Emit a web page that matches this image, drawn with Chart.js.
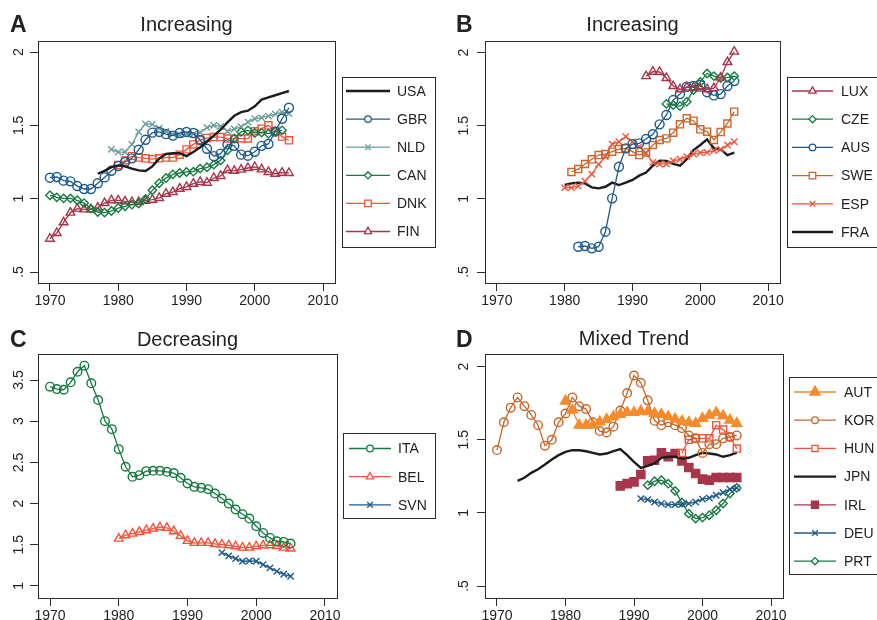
<!DOCTYPE html>
<html><head><meta charset="utf-8">
<script src="https://cdn.jsdelivr.net/npm/chart.js@4.4.1/dist/chart.umd.min.js"></script>
<style>
html,body{margin:0;padding:0;background:#fff;}
#wrap{position:relative;width:877px;height:620px;overflow:hidden;background:#fff;}
canvas{position:absolute;}
</style></head><body>
<div id="wrap">
<canvas id="cA" width="440" height="312" style="left:0;top:0"></canvas>
<canvas id="cB" width="437" height="312" style="left:440px;top:0"></canvas>
<canvas id="cC" width="440" height="308" style="left:0;top:312px"></canvas>
<canvas id="cD" width="437" height="308" style="left:440px;top:312px"></canvas>
</div>
<script>
const FONT = '"Liberation Sans", Arial, Helvetica, sans-serif';

// ---- tick labels ----
const xTicks = [1970, 1980, 1990, 2000, 2010];
const yTicksAB = [0.5, 1, 1.5, 2];
const yLabelsAB = ['.5', '1', '1.5', '2'];
const yTicksC = [1, 1.5, 2, 2.5, 3, 3.5];
const yLabelsC = ['1', '1.5', '2', '2.5', '3', '3.5'];

// ---- panel titles ----
const titles = ['Increasing', 'Increasing', 'Decreasing', 'Mixed Trend'];
const letters = ['A', 'B', 'C', 'D'];

// ---- Panel A data (first year, yearly values) ----
const usaStart = 1977;
const usa = [1.17,1.19,1.215,1.227,1.22,1.205,1.193,1.189,1.22,1.273,1.305,1.31,1.31,1.29,1.318,1.35,1.39,1.43,1.47,1.52,1.565,1.59,1.60,1.63,1.675,1.69,1.705,1.72,1.734];
const gbrStart = 1970;
const gbr = [1.143,1.148,1.123,1.118,1.086,1.066,1.066,1.105,1.145,1.19,1.223,1.25,1.275,1.334,1.402,1.45,1.455,1.44,1.43,1.448,1.455,1.448,1.40,1.34,1.29,1.307,1.37,1.36,1.30,1.293,1.32,1.36,1.373,1.457,1.545,1.62];
const nldStart = 1979;
const nld = [1.336,1.318,1.318,1.37,1.455,1.51,1.507,1.48,1.46,1.44,1.436,1.44,1.44,1.452,1.484,1.50,1.493,1.46,1.475,1.49,1.523,1.545,1.552,1.563,1.577,1.59,1.58];
const canStart = 1970;
const can = [1.023,1.009,1.002,1.002,0.989,0.97,0.932,0.909,0.905,0.916,0.936,0.948,0.959,0.966,0.998,1.057,1.105,1.141,1.166,1.175,1.182,1.184,1.205,1.214,1.232,1.261,1.33,1.41,1.455,1.466,1.448,1.45,1.443,1.459,1.466];
const dnkStart = 1980;
const dnk = [1.23,1.26,1.29,1.28,1.275,1.27,1.275,1.28,1.28,1.30,1.336,1.37,1.40,1.414,1.42,1.42,1.41,1.407,1.41,1.41,1.459,1.477,1.50,1.461,1.423,1.398];
const finStart = 1970;
const fin = [0.727,0.766,0.839,0.905,0.932,0.927,0.927,0.939,0.97,0.989,0.989,0.982,0.977,0.977,0.986,0.993,1.005,1.034,1.045,1.068,1.08,1.102,1.114,1.109,1.141,1.155,1.195,1.19,1.198,1.209,1.216,1.20,1.182,1.17,1.177,1.175];

// ---- Panel B data ----
const luxStart = 1992;
const lux = [1.84,1.87,1.868,1.827,1.772,1.75,1.763,1.763,1.754,1.75,1.758,1.83,1.936,2.007];
const czeStart = 1995;
const cze = [1.65,1.642,1.635,1.665,1.745,1.80,1.858,1.84,1.827,1.83,1.84];
const ausStart = 1982;
const aus = [0.673,0.678,0.662,0.673,0.776,1.004,1.22,1.346,1.375,1.38,1.41,1.442,1.51,1.574,1.676,1.717,1.767,1.772,1.779,1.73,1.708,1.717,1.772,1.806];
const sweStart = 1981;
const swe = [1.184,1.204,1.239,1.271,1.30,1.307,1.323,1.341,1.346,1.323,1.30,1.318,1.369,1.403,1.414,1.453,1.51,1.551,1.535,1.476,1.46,1.403,1.457,1.516,1.597];
const espStart = 1980;
const esp = [1.077,1.077,1.088,1.122,1.17,1.236,1.289,1.375,1.391,1.426,1.391,1.357,1.312,1.25,1.239,1.239,1.261,1.271,1.289,1.307,1.316,1.318,1.33,1.339,1.369,1.391];
const fraStart = 1980;
const fra = [1.095,1.106,1.111,1.106,1.079,1.072,1.083,1.111,1.095,1.111,1.13,1.159,1.18,1.227,1.261,1.259,1.239,1.227,1.271,1.334,1.369,1.407,1.346,1.339,1.30,1.316];

// ---- Panel C data ----
const itaStart = 1970;
const ita = [3.419,3.39,3.382,3.472,3.60,3.674,3.46,3.257,3.0,2.904,2.661,2.447,2.325,2.345,2.394,2.398,2.398,2.386,2.37,2.313,2.244,2.203,2.191,2.175,2.122,2.062,2.0,1.928,1.871,1.818,1.725,1.644,1.583,1.543,1.535,1.515];
const belStart = 1980;
const bel = [1.575,1.616,1.636,1.656,1.677,1.697,1.713,1.705,1.665,1.608,1.547,1.523,1.523,1.523,1.51,1.502,1.494,1.482,1.466,1.466,1.482,1.494,1.494,1.486,1.466,1.454];
const svnStart = 1995;
const svn = [1.405,1.365,1.332,1.30,1.304,1.30,1.26,1.219,1.178,1.142,1.118];

// ---- Panel D data ----
const autStart = 1980;
const aut = [1.765,1.703,1.60,1.60,1.60,1.623,1.64,1.658,1.673,1.687,1.687,1.696,1.692,1.68,1.673,1.658,1.642,1.628,1.619,1.612,1.646,1.669,1.685,1.664,1.635,1.612];
const korStart = 1970;
const kor = [1.43,1.62,1.72,1.79,1.73,1.67,1.60,1.46,1.50,1.62,1.68,1.79,1.73,1.71,1.62,1.56,1.55,1.59,1.70,1.82,1.94,1.89,1.77,1.63,1.60,1.62,1.60,1.58,1.53,1.51,1.41,1.47,1.47,1.51,1.52,1.53];
const hunStart = 1997;
const hun = [1.41,1.50,1.51,1.51,1.51,1.60,1.57,1.52,1.44];
const jpnStart = 1973;
const jpn = [1.219,1.24,1.274,1.299,1.331,1.365,1.395,1.418,1.429,1.429,1.422,1.411,1.40,1.406,1.422,1.436,1.395,1.349,1.308,1.322,1.338,1.377,1.384,1.384,1.372,1.377,1.395,1.411,1.406,1.40,1.384,1.395,1.413];
const irlStart = 1988;
const irl = [1.185,1.20,1.212,1.263,1.356,1.36,1.411,1.384,1.406,1.356,1.311,1.27,1.231,1.224,1.242,1.242,1.242,1.242];
const deuStart = 1991;
const deu = [1.098,1.091,1.075,1.064,1.057,1.057,1.059,1.064,1.075,1.094,1.103,1.121,1.139,1.162,1.171];
const prtStart = 1992;
const prt = [1.19,1.217,1.224,1.20,1.151,1.071,0.995,0.961,0.968,0.984,1.018,1.064,1.132,1.171];

// ---- styles ----
const COL = {black:'#1c1c1c', blue:'#1e5a8c', teal:'#6b9e96', green:'#167a41', red:'#f0553c', maroon:'#a8364a', brown:'#c8662c', orange:'#f58b2b'};

function pts(start, vals) { return vals.map((v, i) => ({x: start + i, y: v})); }

function series(label, start, vals, color, style, r, filled, legR) {
  const line = !style;
  return {
    label, data: pts(start, vals),
    borderColor: color, backgroundColor: color,
    borderWidth: line ? 2.4 : 1.3,
    pointStyle: style || 'circle',
    pointRadius: line ? 0 : r,
    pointHoverRadius: line ? 0 : r,
    pointBorderWidth: 1.4,
    pointBorderColor: color,
    pointBackgroundColor: filled ? color : 'rgba(255,255,255,0)',
    tension: 0, fill: false,
    _style: style, _filled: filled, _legR: legR
  };
}

function drawMarker(ctx, style, x, y, r, color, filled, lw) {
  ctx.save();
  ctx.strokeStyle = color; ctx.fillStyle = color; ctx.lineWidth = lw;
  ctx.beginPath();
  if (style === 'circle') {
    ctx.arc(x, y, r, 0, Math.PI * 2);
  } else if (style === 'rect') {
    const s = r * Math.SQRT1_2; ctx.rect(x - s, y - s, 2 * s, 2 * s);
  } else if (style === 'triangle') {
    ctx.moveTo(x, y - r);
    ctx.lineTo(x + r * Math.sin(Math.PI / 3), y + r * 0.5);
    ctx.lineTo(x - r * Math.sin(Math.PI / 3), y + r * 0.5);
    ctx.closePath();
  } else if (style === 'rectRot') {
    ctx.moveTo(x, y - r); ctx.lineTo(x + r, y); ctx.lineTo(x, y + r); ctx.lineTo(x - r, y); ctx.closePath();
  } else if (style === 'crossRot') {
    const s = r * Math.SQRT1_2;
    ctx.moveTo(x - s, y - s); ctx.lineTo(x + s, y + s);
    ctx.moveTo(x - s, y + s); ctx.lineTo(x + s, y - s);
  }
  if (filled) ctx.fill(); else if (style !== 'crossRot') { ctx.fillStyle = '#fff'; ctx.fill(); }
  ctx.stroke();
  ctx.restore();
}

function panelPlugin(cfg) {
  return {
    id: 'panel' + cfg.letter,
    afterDraw(chart) {
      const ctx = chart.ctx, a = chart.chartArea;
      ctx.save();
      ctx.strokeStyle = '#2a2a2a'; ctx.lineWidth = 1;
      ctx.strokeRect(Math.round(a.left) + 0.5, Math.round(a.top) + 0.5, Math.round(a.right - a.left), Math.round(a.bottom - a.top));
      ctx.fillStyle = '#222';
      ctx.font = '20px ' + FONT; ctx.textAlign = 'center'; ctx.textBaseline = 'alphabetic';
      ctx.fillText(cfg.title, (a.left + a.right) / 2, cfg.titleY);
      ctx.font = 'bold 23px ' + FONT; ctx.textAlign = 'left';
      ctx.fillText(cfg.letter, cfg.letterX, cfg.letterY);
      const L = cfg.legend;
      ctx.fillStyle = '#fff';
      ctx.fillRect(L.x, L.y, L.w, L.h);
      ctx.strokeStyle = '#2a2a2a'; ctx.lineWidth = 1;
      ctx.strokeRect(L.x + 0.5, L.y + 0.5, L.w, L.h);
      chart.data.datasets.forEach((ds, i) => {
        const y = L.row0 + i * L.gap;
        ctx.strokeStyle = ds.borderColor; ctx.lineWidth = ds.borderWidth;
        ctx.beginPath(); ctx.moveTo(L.lx0, y); ctx.lineTo(L.lx1, y); ctx.stroke();
        if (ds._style) drawMarker(ctx, ds._style, (L.lx0 + L.lx1) / 2, y, ds._legR, ds.borderColor, ds._filled, 1.3);
        ctx.fillStyle = '#222'; ctx.font = '14px ' + FONT;
        ctx.textAlign = 'left'; ctx.textBaseline = 'middle';
        ctx.fillText(ds.label, L.tx, y + 1);
      });
      ctx.restore();
    }
  };
}

function makeChart(id, datasets, opt) {
  const el = document.getElementById(id);
  return new Chart(el, {
    type: 'line',
    data: {datasets},
    options: {
      responsive: false, maintainAspectRatio: false, animation: false, devicePixelRatio: 1,
      layout: {padding: {left: 0, top: opt.top, right: opt.right, bottom: 0}},
      plugins: {legend: {display: false}, title: {display: false}, tooltip: {enabled: false}},
      events: [],
      scales: {
        x: {
          type: 'linear', min: 1968.25, max: 2011.75,
          afterBuildTicks: s => { s.ticks = xTicks.map(v => ({value: v})); },
          afterFit: s => { s.height = opt.xh; },
          grid: {drawOnChartArea: false, drawTicks: true, tickLength: 8, color: '#2a2a2a', lineWidth: 1},
          border: {display: false},
          ticks: {font: {family: FONT, size: 14}, color: '#222', padding: 2, maxRotation: 0, minRotation: 0, autoSkip: false,
                  callback: v => String(v)}
        },
        y: {
          type: 'linear', min: opt.ymin, max: opt.ymax,
          afterBuildTicks: s => { s.ticks = opt.yTicks.map(v => ({value: v})); },
          afterFit: s => { s.width = opt.yw; },
          grid: {drawOnChartArea: false, drawTicks: true, tickLength: 8, color: '#2a2a2a', lineWidth: 1},
          border: {display: false},
          ticks: {font: {family: FONT, size: 14}, color: '#222', padding: opt.ypad, minRotation: 90, maxRotation: 90,
                  crossAlign: 'center', autoSkip: false,
                  callback: (v, i) => opt.yLabels[i]}
        }
      }
    },
    plugins: [panelPlugin({letter: opt.letter, title: opt.title, titleY: opt.titleY, letterX: opt.letterX, letterY: opt.letterY, legend: opt.legend})]
  });
}

// Panel A
makeChart('cA', [
  series('USA', usaStart, usa, COL.black, null, 0, false, 0),
  series('GBR', gbrStart, gbr, COL.blue, 'circle', 4.5, false, 3.3),
  series('NLD', nldStart, nld, COL.teal, 'crossRot', 4.5, false, 4),
  series('CAN', canStart, can, COL.green, 'rectRot', 4.2, false, 3.6),
  series('DNK', dnkStart, dnk, COL.red, 'rect', 5, false, 4.6),
  series('FIN', finStart, fin, COL.maroon, 'triangle', 5, false, 4.2)
], {letter: letters[0], title: titles[0], titleY: 31, letterX: 10, letterY: 32,
    top: 41, right: 105, xh: 29, yw: 38, ypad: 1, ymin: 0.425, ymax: 2.075,
    yTicks: yTicksAB, yLabels: yLabelsAB,
    legend: {x: 342, y: 77, w: 93, h: 170, row0: 91, gap: 28.1, lx0: 346, lx1: 390, tx: 397}});

// Panel B
makeChart('cB', [
  series('LUX', luxStart, lux, COL.maroon, 'triangle', 5, false, 4.2),
  series('CZE', czeStart, cze, COL.green, 'rectRot', 4.2, false, 3.6),
  series('AUS', ausStart, aus, COL.blue, 'circle', 4.5, false, 3.3),
  series('SWE', sweStart, swe, COL.brown, 'rect', 5, false, 4.6),
  series('ESP', espStart, esp, COL.red, 'crossRot', 4.5, false, 4),
  series('FRA', fraStart, fra, COL.black, null, 0, false, 0)
], {letter: letters[1], title: titles[1], titleY: 31, letterX: 16, letterY: 32,
    top: 41, right: 97, xh: 29, yw: 45, ypad: 3, ymin: 0.425, ymax: 2.08,
    yTicks: yTicksAB, yLabels: yLabelsAB,
    legend: {x: 347, y: 77, w: 120, h: 170, row0: 91, gap: 28.2, lx0: 352, lx1: 393, tx: 401}});

// Panel C
makeChart('cC', [
  series('ITA', itaStart, ita, COL.green, 'circle', 4.3, false, 3.3),
  series('BEL', belStart, bel, COL.red, 'triangle', 5, false, 4.2),
  series('SVN', svnStart, svn, COL.blue, 'crossRot', 4.5, false, 4)
], {letter: letters[2], title: titles[2], titleY: 34, letterX: 10, letterY: 35,
    top: 42, right: 103, xh: 22, yw: 38, ypad: 1, ymin: 0.854, ymax: 3.816,
    yTicks: yTicksC, yLabels: yLabelsC,
    legend: {x: 343, y: 121, w: 92, h: 85, row0: 136.5, gap: 28.2, lx0: 349, lx1: 391, tx: 398}});

// Panel D
makeChart('cD', [
  series('AUT', autStart, aut, COL.orange, 'triangle', 5.8, true, 6),
  series('KOR', korStart, kor, COL.brown, 'circle', 4.3, false, 3.3),
  series('HUN', hunStart, hun, COL.red, 'rect', 5, false, 4.4),
  series('JPN', jpnStart, jpn, COL.black, null, 0, false, 0),
  series('IRL', irlStart, irl, COL.maroon, 'rect', 5.8, true, 5),
  series('DEU', deuStart, deu, COL.blue, 'crossRot', 4.5, false, 4),
  series('PRT', prtStart, prt, COL.green, 'rectRot', 4.2, false, 3.6)
], {letter: letters[3], title: titles[3], titleY: 33, letterX: 16, letterY: 35,
    top: 42, right: 94, xh: 22, yw: 45, ypad: 3, ymin: 0.418, ymax: 2.087,
    yTicks: yTicksAB, yLabels: yLabelsAB,
    legend: {x: 349, y: 65, w: 120, h: 197, row0: 80, gap: 28.2, lx0: 354, lx1: 396, tx: 404}});
</script>
</body></html>
